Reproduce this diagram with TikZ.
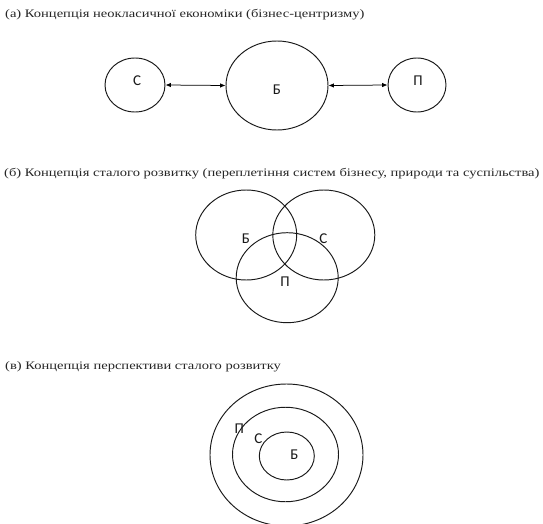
\documentclass[tikz,border=0pt]{standalone}
\usepackage{graphicx}
\usepackage{fontspec}
\setmainfont{Liberation Serif}
\newfontfamily\lblfont{Carlito}
\usetikzlibrary{shapes.geometric,arrows.meta}
\newcommand{\widetitle}[1]{\scalebox{1.264}[1]{#1}}
\begin{document}
\begin{tikzpicture}[x=1pt,y=-1pt,
  circ/.style={ellipse,draw=black!90,line width=0.95pt,inner sep=0pt},
  lbl/.style={font=\lblfont\fontsize{15}{15}\selectfont,inner sep=0pt,text=black!90},
  ttl/.style={font=\fontsize{11.5}{12}\selectfont,anchor=west,inner sep=0pt,text=black!85},
  conn/.style={line width=0.75pt,{Latex[length=5.5pt,width=4.5pt]}-{Latex[length=5.5pt,width=4.5pt]}}]
\useasboundingbox (0,0) rectangle (543,524);
\fill[white] (0,0) rectangle (543,524);
% (a)
\node[ttl] (ta) at (5,15) {\widetitle{(а) Концепція неокласичної економіки (бізнес-центризму)}};
\node[circ,minimum width=60pt,minimum height=54pt] (aC) at (135,85) {};
\node[circ,minimum width=102pt,minimum height=89pt] (aB) at (277,85.5) {};
\node[circ,minimum width=58pt,minimum height=54pt] (aP) at (417,85) {};
\node[lbl] (laC) at (137,81) {С};
\node[lbl] (laB) at (277,90) {Б};
\node[lbl] (laP) at (418,81) {П};
\draw[conn] (aC.east) -- (aB.west);
\draw[conn] (aB.east) -- (aP.west);
% (b)
\node[ttl] (tb) at (4,174) {\widetitle{(б) Концепція сталого розвитку (переплетіння систем бізнесу, природи та суспільства)}};
\node[circ,minimum width=101pt,minimum height=90pt] (bB) at (246.2,235) {};
\node[circ,minimum width=102pt,minimum height=90pt] (bC) at (323.8,235) {};
\node[circ,minimum width=102pt,minimum height=90pt] (bP) at (287.2,277.7) {};
\node[lbl] (lbB) at (246,239) {Б};
\node[lbl] (lbC) at (323.3,239) {С};
\node[lbl] (lbP) at (285,281.7) {П};
% (c)
\node[ttl] (tc) at (5,367) {\widetitle{(в) Концепція перспективи сталого розвитку}};
\node[circ,minimum width=153pt,minimum height=142pt] (cP) at (286.5,455) {};
\node[circ,minimum width=106pt,minimum height=94.5pt] (cC) at (285.5,454.5) {};
\node[circ,minimum width=55pt,minimum height=48pt] (cB) at (286.8,456) {};
\node[lbl] (lcP) at (239.3,428.3) {П};
\node[lbl] (lcC) at (258.3,438.3) {С};
\node[lbl] (lcB) at (294.3,455) {Б};
\end{tikzpicture}
\end{document}
